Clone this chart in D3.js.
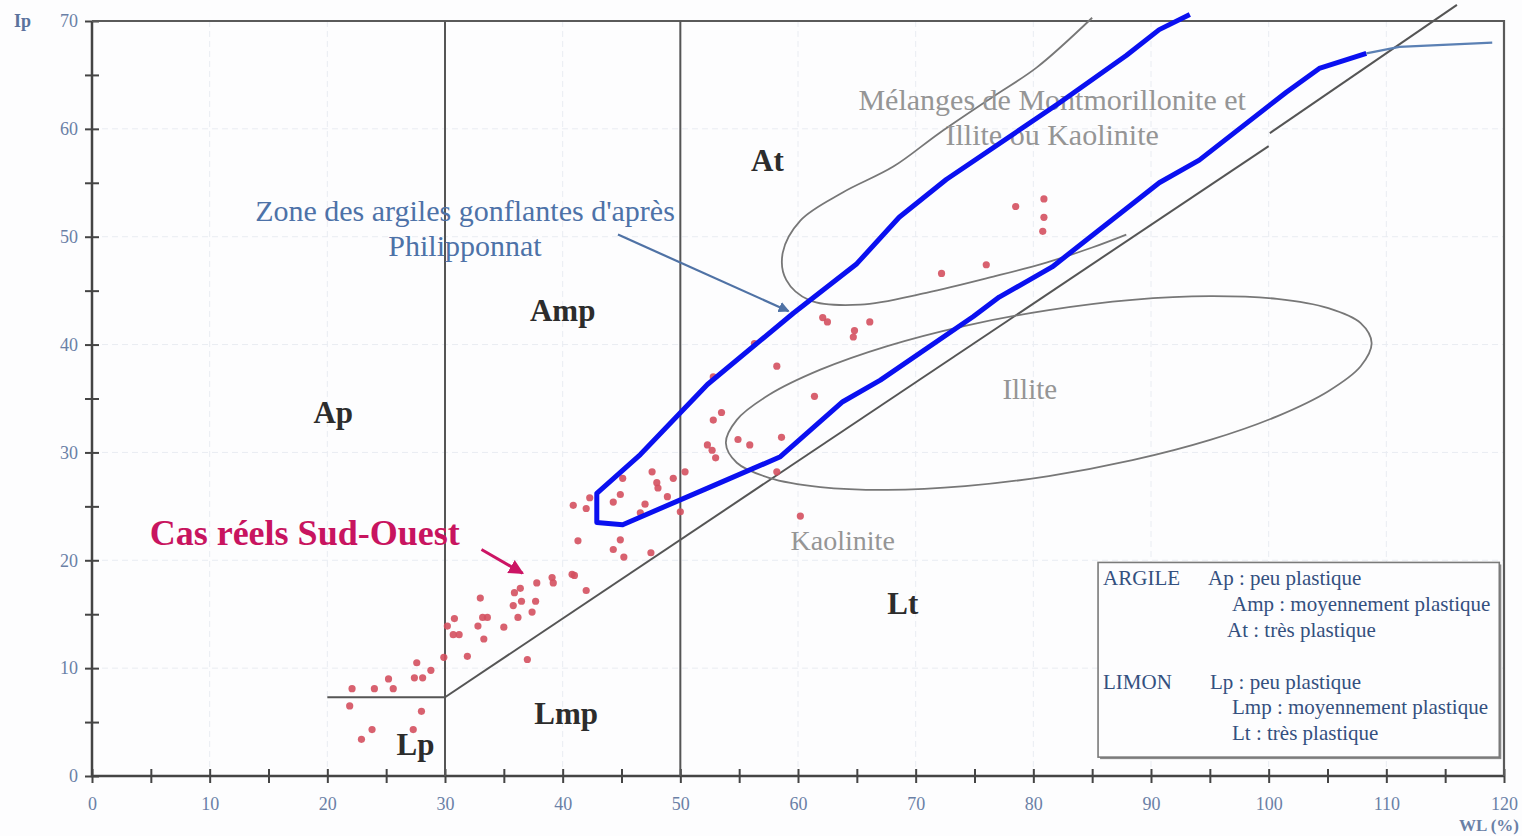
<!DOCTYPE html>
<html><head><meta charset="utf-8">
<script src="https://cdn.jsdelivr.net/npm/d3@7"></script>
<style>body{margin:0;background:#fff} svg{display:block}</style>
</head><body><svg id="c" width="1522" height="836"></svg>
<script>
// ---------- DATA ----------
const xTickValues = d3.range(0, 121, 5);
const yTickValues = d3.range(0, 71, 5);
const xTickLabels = [0,10,20,30,40,50,60,70,80,90,100,110,120];
const yTickLabels = [0,10,20,30,40,50,60,70];

// Casagrande boundaries (WL, Ip)
const aLine = [[30, 7.3], [100, 58.4]];
const aLineUpper = [[100.1, 59.6], [116, 71.5]];
const lpLine = [[20, 7.3], [30, 7.3]];
const wlLimits = [30, 50];

// Zone des argiles gonflantes (blue contour)
const zoneGonflantes = [
  [93.3,70.6],[90.7,69.2],[87.9,66.8],[82.2,62.4],[72.6,55.3],[68.6,51.8],[65.0,47.5],
  [59.6,42.9],[52.3,36.3],[46.6,29.8],[42.9,26.2],[42.9,23.5],[45.1,23.3],[53.4,27.2],
  [58.5,29.6],[63.8,34.7],[67.0,36.7],[74.9,42.6],[77.1,44.4],[81.6,47.2],[90.7,55.0],
  [94.1,57.1],[101.5,63.4],[104.3,65.6],[108.3,67.0]
];
const zoneTail = [[108.3,67.0],[111.1,67.6],[119.0,68.0]];

// Mélanges de Montmorillonite et Illite ou Kaolinite
const melanges = [
  [85.0,70.3],[80.3,65.7],[76.6,63.0],[72.0,59.6],[68.1,56.5],[63.8,54.1],[60.2,51.5],
  [58.7,48.5],[59.0,46.0],[61.0,44.1],[65.3,43.7],[70.9,44.8],[76.6,46.3],[81.1,47.6],
  [85.0,49.0],[87.9,50.2]
];

// Illite ellipse outline
const illite = [
  [108.75,40.14],[107.82,41.98],[105.07,43.37],[100.71,44.23],[95.03,44.49],[88.42,44.15],
  [81.31,43.20],[74.20,41.74],[67.59,39.86],[61.90,37.67],[57.54,35.34],[54.80,33.02],
  [53.87,30.87],[54.80,29.04],[57.54,27.65],[61.90,26.79],[67.59,26.53],[74.20,26.87],
  [81.31,27.81],[88.42,29.28],[95.03,31.16],[100.71,33.35],[105.07,35.68],[107.82,37.99]
];

// Cas réels Sud-Ouest (WL, Ip)
const casReels = [
  [22.1,8.1],[24.0,8.1],[25.2,9.0],[25.6,8.1],[21.9,6.5],[22.9,3.4],[23.8,4.3],[27.6,10.5],
  [27.4,9.1],[28.1,9.1],[28.8,9.8],[28.0,6.0],[27.3,4.3],[29.9,11.0],[30.2,13.9],[30.8,14.6],
  [30.7,13.1],[31.2,13.1],[31.9,11.1],[33.0,16.5],[32.8,13.9],[33.2,14.7],[33.6,14.7],[33.3,12.7],
  [35.0,13.8],[35.8,15.8],[36.2,14.7],[35.9,17.0],[36.4,17.4],[36.5,16.2],[37.4,15.2],[37.7,16.2],
  [37.8,17.9],[39.1,18.4],[39.2,17.9],[40.8,18.7],[41.0,18.6],[42.0,17.2],[37.0,10.8],[41.3,21.8],
  [40.9,25.1],[42.0,24.8],[42.3,25.8],[44.3,25.4],[44.9,26.1],[45.1,27.6],[47.0,25.2],[46.6,24.4],
  [47.6,28.2],[48.0,27.2],[48.1,26.7],[48.9,25.9],[49.4,27.6],[50.4,28.2],[50.0,24.5],[44.9,21.9],
  [44.3,21.0],[45.2,20.3],[47.5,20.7],[52.8,37.0],[52.8,33.0],[53.5,33.7],[52.3,30.7],[52.7,30.2],
  [53.0,29.5],[54.9,31.2],[55.9,30.7],[58.6,31.4],[61.4,35.2],[58.2,38.0],[56.3,40.1],[62.1,42.5],
  [62.5,42.1],[64.8,41.3],[64.7,40.7],[66.1,42.1],[60.2,24.1],[58.2,28.2],[72.2,46.6],[76.0,47.4],
  [78.5,52.8],[80.9,53.5],[80.9,51.8],[80.8,50.5]
];

// Zone labels [text, WL, Ip]
const zoneLabels = [["Ap",20.5,33.7],["Amp",40.0,43.2],["At",57.4,57.1],["Lp",27.5,2.9],["Lmp",40.3,5.8],["Lt",68.9,16.0]];
const mineralLabels = [["Illite",79.7,35.9,29],["Kaolinite",63.8,21.8,28],
  ["Mélanges de Montmorillonite et",81.6,62.7,30],["Illite ou Kaolinite",81.6,59.5,30]];
const zoneTitle = ["Zone des argiles gonflantes d'après","Philipponnat"];
const zoneArrow = [[44.7,50.2],[59.2,43.1]];
const casTitle = "Cas réels Sud-Ouest";
const casArrow = [[33.1,21.0],[36.6,18.8]];
const legendRows = [
  ["ARGILE","Ap : peu plastique"],["","Amp : moyennement plastique"],["","At : très plastique"],
  ["LIMON","Lp : peu plastique"],["","Lmp : moyennement plastique"],["","Lt : très plastique"]
];

// ---------- CHART ----------
const svg = d3.select("#c");
const FONT = "'Liberation Serif', 'DejaVu Serif', serif";
const x = d3.scaleLinear().domain([0,120]).range([92,1504]);
const y = d3.scaleLinear().domain([0,70]).range([776,21]);
const line = d3.line().x(d=>x(d[0])).y(d=>y(d[1]));

svg.append("rect").attr("width",1522).attr("height",836).attr("fill","#fdfdfe");

const defs = svg.append("defs");
function marker(id,color){
  defs.append("marker").attr("id",id).attr("viewBox","0 0 10 10").attr("refX",9).attr("refY",5)
    .attr("markerWidth",5).attr("markerHeight",5).attr("orient","auto-start-reverse").attr("markerUnits","strokeWidth")
    .append("path").attr("d","M0,0 L10,5 L0,10 z").attr("fill",color);
}
marker("arrBlue","#4f72a5");
marker("arrMag","#cc1464");

// faint grid
const grid = svg.append("g");
grid.selectAll("line.v").data(xTickLabels.slice(1,-1)).join("line")
  .attr("x1",d=>x(d)).attr("x2",d=>x(d)).attr("y1",y(70)).attr("y2",y(0))
  .attr("stroke","#e9ecf2").attr("stroke-width",1).attr("stroke-dasharray","6,4");
grid.selectAll("line.h").data(yTickLabels.slice(1,-1)).join("line")
  .attr("y1",d=>y(d)).attr("y2",d=>y(d)).attr("x1",x(0)).attr("x2",x(120))
  .attr("stroke","#e9ecf2").attr("stroke-width",1).attr("stroke-dasharray","6,4");

// axes
const fmt = d => (d % 10 === 0 ? d : "");
const yAxisG = svg.append("g").attr("transform",`translate(${x(0)},0)`)
  .call(d3.axisLeft(y).tickValues(yTickValues).tickSize(7).tickPadding(7).tickFormat(fmt));
const xAxisG = svg.append("g").attr("transform",`translate(0,${y(0)})`)
  .call(d3.axisBottom(x).tickValues(xTickValues).tickSize(7).tickPadding(14).tickFormat(fmt));
[yAxisG,xAxisG].forEach(g=>{
  g.select(".domain").remove();
  g.selectAll(".tick line").attr("stroke","#444").attr("stroke-width",2);
  g.selectAll(".tick text").attr("fill","#6a80a6").attr("font-family",FONT).attr("font-size",18);
});
yAxisG.selectAll(".tick line").attr("x1",7);
xAxisG.selectAll(".tick line").attr("y1",-7);

// frame
const frame = svg.append("g").attr("fill","none");
frame.append("path").attr("d",line([[0,70],[0,0],[120,0]])).attr("stroke","#444").attr("stroke-width",2.5);
frame.append("path").attr("d",line([[0,70],[120,70],[120,0]])).attr("stroke","#5a5a5a").attr("stroke-width",2.2);

// axis titles
svg.append("text").attr("x",x(0)-78).attr("y",y(70)+6).text("Ip")
  .attr("font-family",FONT).attr("font-size",18).attr("font-weight","bold").attr("fill","#5a729c");
svg.append("text").attr("x",x(120)+15).attr("y",y(0)+55).attr("text-anchor","end").text("WL (%)")
  .attr("font-family",FONT).attr("font-size",17).attr("font-weight","bold").attr("fill","#6a80a6");

// Casagrande lines
const bnd = svg.append("g").attr("fill","none").attr("stroke","#555").attr("stroke-width",2);
wlLimits.forEach(w=>bnd.append("path").attr("d",line([[w,0],[w,70]])));
bnd.append("path").attr("d",line(lpLine));
bnd.append("path").attr("d",line(aLine));
bnd.append("path").attr("d",line(aLineUpper));

// Mélanges & Illite contours
svg.append("path").attr("d",d3.line().x(d=>x(d[0])).y(d=>y(d[1])).curve(d3.curveCatmullRom)(melanges))
  .attr("fill","none").attr("stroke","#777").attr("stroke-width",1.8);
svg.append("path").attr("d",d3.line().x(d=>x(d[0])).y(d=>y(d[1])).curve(d3.curveCatmullRomClosed)(illite))
  .attr("fill","none").attr("stroke","#777").attr("stroke-width",1.8);

// mineral labels
svg.append("g").selectAll("text").data(mineralLabels).join("text")
  .attr("x",d=>x(d[1])).attr("y",d=>y(d[2])).attr("text-anchor","middle").attr("dominant-baseline","central")
  .attr("font-family",FONT).attr("font-size",d=>d[3]).attr("fill","#959595").text(d=>d[0]);

// zone labels
svg.append("g").selectAll("text").data(zoneLabels).join("text")
  .attr("x",d=>x(d[1])).attr("y",d=>y(d[2])).attr("text-anchor","middle").attr("dominant-baseline","central")
  .attr("font-family",FONT).attr("font-size",31).attr("font-weight","bold").attr("fill","#2c2c2c").text(d=>d[0]);

// Zone title + arrow
svg.append("g").selectAll("text").data(zoneTitle).join("text")
  .attr("x",x(31.7)).attr("y",(d,i)=>y(52.4 - i*3.2)).attr("text-anchor","middle").attr("dominant-baseline","central")
  .attr("font-family",FONT).attr("font-size",30).attr("fill","#4d72a8").text(d=>d);
svg.append("path").attr("d",line(zoneArrow)).attr("stroke","#4f72a5").attr("stroke-width",2.2)
  .attr("fill","none").attr("marker-end","url(#arrBlue)");

// points
svg.append("g").selectAll("circle").data(casReels).join("circle")
  .attr("cx",d=>x(d[0])).attr("cy",d=>y(d[1])).attr("r",3.6)
  .attr("fill","#d4505f").attr("fill-opacity",0.9);

// blue zone
svg.append("path").attr("d",line(zoneGonflantes)).attr("fill","none").attr("stroke","#0a10f0")
  .attr("stroke-width",5).attr("stroke-linejoin","round");
svg.append("path").attr("d",line(zoneTail)).attr("fill","none").attr("stroke","#5b80b4").attr("stroke-width",2.2);

// Cas réels label + arrow
svg.append("text").attr("x",x(4.9)).attr("y",y(22.5)).attr("dominant-baseline","central")
  .attr("font-family",FONT).attr("font-size",36).attr("font-weight","bold").attr("fill","#c8145f").text(casTitle);
svg.append("path").attr("d",line(casArrow)).attr("stroke","#cc1464").attr("stroke-width",3)
  .attr("fill","none").attr("marker-end","url(#arrMag)");

// legend
const lg = svg.append("g");
const lx0 = x(85.5), lx1 = x(119.6), ly0 = y(19.8), ly1 = y(1.75);
lg.append("rect").attr("x",lx0+2).attr("y",ly0+2).attr("width",lx1-lx0).attr("height",ly1-ly0).attr("fill","#8a8a8a");
lg.append("rect").attr("x",lx0).attr("y",ly0).attr("width",lx1-lx0).attr("height",ly1-ly0)
  .attr("fill","#fdfdfe").attr("stroke","#7a7a7a").attr("stroke-width",1.6);
const rowY = [585,611,637,689,714,740];
const rowX = [1208,1232,1227,1210,1232,1232];
lg.selectAll("text.k").data(legendRows).join("text")
  .attr("x",lx0+5).attr("y",(d,i)=>rowY[i]).text(d=>d[0])
  .attr("font-family",FONT).attr("font-size",21).attr("fill","#34507f");
lg.selectAll("text.v").data(legendRows).join("text")
  .attr("x",(d,i)=>rowX[i]).attr("y",(d,i)=>rowY[i]).text(d=>d[1])
  .attr("font-family",FONT).attr("font-size",21).attr("fill","#34507f");
</script></body></html>
